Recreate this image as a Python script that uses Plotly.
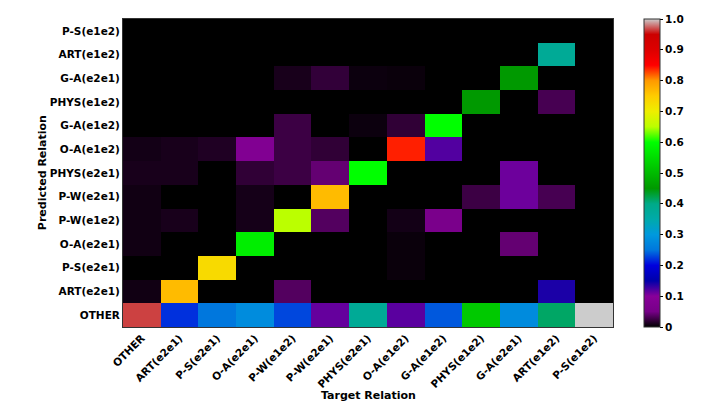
import plotly.graph_objects as go

categories = ["OTHER", "ART(e2e1)", "P-S(e2e1)", "O-A(e2e1)", "P-W(e1e2)", "P-W(e2e1)",
              "PHYS(e2e1)", "O-A(e1e2)", "G-A(e1e2)", "PHYS(e1e2)", "G-A(e2e1)",
              "ART(e1e2)", "P-S(e1e2)"]

# rows = predicted relation (bottom to top), columns = target relation
row_other = [0.966, 0.22, 0.25, 0.281, 0.23, 0.113, 0.38, 0.117, 0.237, 0.52, 0.28, 0.413, 1.0]
row_art_e2e1 = [0.007, 0.767, 0, 0, 0.035, 0, 0, 0, 0, 0, 0, 0.14, 0]
row_ps_e2e1 = [0, 0, 0.729, 0, 0, 0, 0, 0.004, 0, 0, 0, 0, 0]
row_oa_e2e1 = [0.007, 0, 0, 0.575, 0, 0, 0, 0.004, 0, 0, 0.042, 0, 0]
row_pw_e1e2 = [0.007, 0.01, 0, 0.009, 0.65, 0.035, 0, 0.008, 0.06, 0, 0, 0, 0]
row_pw_e2e1 = [0.007, 0, 0, 0.009, 0, 0.767, 0, 0, 0, 0.025, 0.11, 0.03, 0]
row_phys_e2e1 = [0.01, 0.01, 0, 0.02, 0.025, 0.042, 0.6, 0, 0, 0, 0.11, 0, 0]
row_oa_e1e2 = [0.008, 0.01, 0.013, 0.08, 0.025, 0.02, 0, 0.84, 0.12, 0, 0, 0, 0]
row_ga_e1e2 = [0, 0, 0, 0, 0.025, 0, 0.005, 0.02, 0.6, 0, 0, 0, 0]
row_phys_e1e2 = [0, 0, 0, 0, 0, 0, 0, 0, 0, 0.45, 0, 0.03, 0]
row_ga_e2e1 = [0, 0, 0, 0, 0.01, 0.021, 0.005, 0.004, 0, 0, 0.45, 0, 0]
row_art_e1e2 = [0, 0, 0, 0, 0, 0, 0, 0, 0, 0, 0, 0.38, 0]
row_ps_e1e2 = [0, 0, 0, 0, 0, 0, 0, 0, 0, 0, 0, 0, 0]

z = [row_other, row_art_e2e1, row_ps_e2e1, row_oa_e2e1, row_pw_e1e2, row_pw_e2e1,
     row_phys_e2e1, row_oa_e1e2, row_ga_e1e2, row_phys_e1e2, row_ga_e2e1,
     row_art_e1e2, row_ps_e1e2]

cbar_ticks = [0, 0.1, 0.2, 0.3, 0.4, 0.5, 0.6, 0.7, 0.8, 0.9, 1.0]
cbar_labels = ["0", "0.1", "0.2", "0.3", "0.4", "0.5", "0.6", "0.7", "0.8", "0.9", "1.0"]

# matplotlib nipy_spectral colormap
ns_r = [0.0, 0.4667, 0.5333, 0, 0, 0, 0, 0, 0, 0, 0, 0, 0, 0.7333, 0.9333, 1, 1, 1, 0.8667, 0.8, 0.8]
ns_g = [0, 0, 0, 0, 0, 0.4667, 0.6, 0.6667, 0.6667, 0.6, 0.7333, 0.8667, 1, 1, 0.9333, 0.8, 0.6, 0, 0, 0, 0.8]
ns_b = [0, 0.5333, 0.6, 0.6667, 0.8667, 0.8667, 0.8667, 0.6667, 0.5333, 0, 0, 0, 0, 0, 0, 0, 0, 0, 0, 0, 0.8]
colorscale = [[i / 20, "rgb(%d,%d,%d)" % (round(r * 255), round(g * 255), round(b * 255))]
              for i, (r, g, b) in enumerate(zip(ns_r, ns_g, ns_b))]

font = dict(family="DejaVu Sans", size=10.5, color="black", weight="bold")
title_font = dict(family="DejaVu Sans", size=11, color="black", weight="bold")

fig = go.Figure(go.Heatmap(
    z=z, x=categories, y=categories, colorscale=colorscale, zmin=0, zmax=1,
    colorbar=dict(
        x=1.063, xanchor="left", y=0, yanchor="bottom", len=1, lenmode="fraction",
        xpad=0, ypad=0,
        thickness=16, outlinewidth=1, outlinecolor="#333",
        tickvals=cbar_ticks, ticktext=cbar_labels, ticks="outside", ticklen=3,
        tickcolor="black", tickfont=font,
    ),
))

fig.update_layout(
    width=728, height=414,
    margin=dict(l=123, r=115, t=19, b=87),
    paper_bgcolor="white", plot_bgcolor="black",
    font=font,
    xaxis=dict(tickangle=-45, tickfont=font, showgrid=False, zeroline=False,
               showline=True, linecolor="#333", linewidth=1, mirror=True, ticks="",
               ticklen=0),
    yaxis=dict(tickfont=font, showgrid=False, zeroline=False,
               showline=True, linecolor="#333", linewidth=1, mirror=True, ticks="",
               ticklen=0),
    annotations=[
        dict(text="Target Relation", x=0.5, y=-0.222, xref="paper", yref="paper",
             showarrow=False, font=title_font, xanchor="center", yanchor="middle"),
        dict(text="Predicted Relation", x=-0.165, y=0.5, xref="paper", yref="paper",
             showarrow=False, font=title_font, textangle=-90, xanchor="center", yanchor="middle"),
    ],
)

fig.write_html("out.html")
